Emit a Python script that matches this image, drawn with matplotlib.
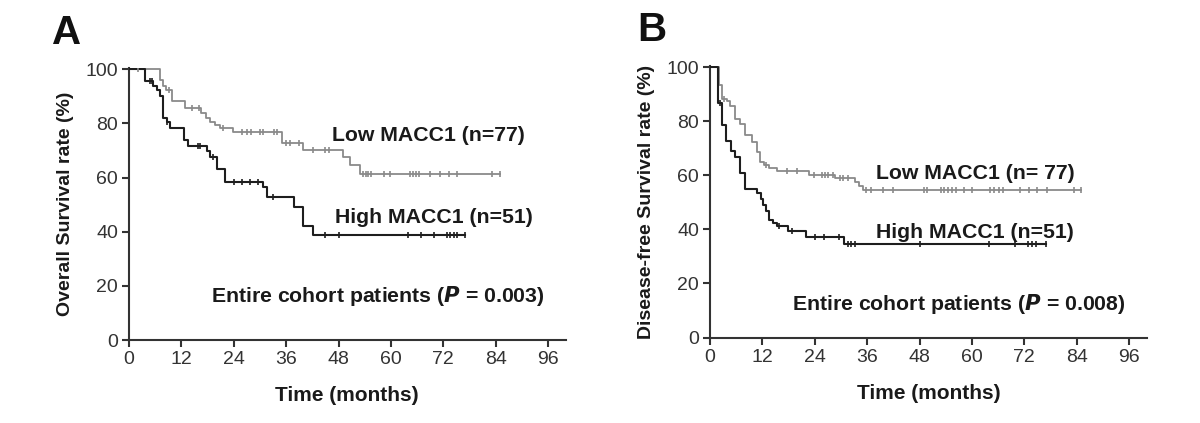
import numpy as np
import matplotlib
matplotlib.use("Agg")
import matplotlib.pyplot as plt
from matplotlib import font_manager as fm

names = {f.name for f in fm.fontManager.ttflist}
NARROW = "Liberation Sans Narrow" if "Liberation Sans Narrow" in names else "Liberation Sans"
BOLD = "Liberation Sans"

# ---------------- data ----------------
x_ticks = [0, 12, 24, 36, 48, 60, 72, 84, 96]
y_ticks = [0, 20, 40, 60, 80, 100]

# Panel A - overall survival
a_low_t = [0, 7.0, 7.7, 8.4, 9.8, 12.8, 16.6, 17.6, 18.6, 19.6, 20.8, 23.9, 35.0, 39.9, 49.0, 50.6, 52.8]
a_low_s = [100, 96.0, 94.0, 92.2, 88.2, 85.7, 84.0, 82.1, 80.5, 79.5, 78.4, 76.9, 72.7, 70.2, 67.6, 64.5, 61.3]
a_low_end = 85.0
a_low_cens = [2.0, 9.2, 14.5, 16.0, 21.5, 25.8, 27.0, 27.9, 29.9, 30.8, 33.2, 33.8, 35.9, 36.9, 39.0,
              42.1, 44.9, 45.7, 53.7, 54.3, 54.8, 55.4, 58.3, 59.8, 64.4, 65.1, 65.7, 66.5, 69.0,
              71.2, 73.2, 75.1, 83.1, 85.0]

a_high_t = [0, 3.7, 5.6, 6.3, 7.0, 7.7, 8.6, 9.5, 12.6, 13.5, 17.8, 18.6, 20.1, 22.0, 30.6, 31.5, 37.8, 39.8, 42.1]
a_high_s = [100, 95.8, 94.0, 92.2, 90.0, 82.1, 80.4, 78.4, 73.8, 71.7, 69.9, 67.6, 63.1, 58.2, 56.4, 53.0, 49.0, 42.3, 38.8]
a_high_end = 77.0
a_high_cens = [4.7, 5.2, 8.6, 15.9, 16.3, 19.2, 24.1, 25.8, 27.7, 29.6, 32.9, 45.0, 48.0, 64.0,
               67.0, 69.8, 72.8, 73.6, 74.4, 75.1, 77.0]

# Panel B - disease-free survival
b_low_t = [0, 2.0, 2.7, 3.8, 4.6, 5.7, 6.8, 8.0, 9.7, 10.8, 11.5, 12.3, 13.6, 15.4, 22.7, 28.7, 33.3, 34.2, 35.0]
b_low_s = [100, 93.6, 88.3, 87.4, 85.7, 80.7, 79.1, 75.1, 72.4, 68.7, 64.9, 63.8, 62.8, 61.7, 60.3, 59.1, 57.6, 56.0, 54.5]
b_low_end = 85.0
b_low_cens = [3.3, 12.8, 17.6, 19.9, 23.7, 25.6, 26.3, 27.1, 28.2, 29.8, 30.5, 31.7, 35.7, 36.8,
              39.7, 41.9, 48.9, 49.8, 52.9, 53.6, 54.4, 55.4, 56.4, 58.1, 60.0, 64.2, 65.0, 66.1,
              67.1, 71.1, 73.0, 74.9, 77.1, 83.3, 85.0]

b_high_t = [0, 1.9, 2.8, 3.7, 4.8, 5.7, 6.9, 7.9, 10.8, 11.6, 12.2, 12.9, 13.6, 14.5, 15.3, 17.9, 22.0, 30.6]
b_high_s = [100, 86.7, 78.8, 72.8, 69.0, 66.8, 60.8, 55.0, 53.5, 51.3, 49.0, 47.0, 43.5, 42.2, 41.2, 39.4, 37.2, 34.6]
b_high_end = 77.0
b_high_cens = [2.2, 15.8, 18.8, 24.0, 26.1, 29.6, 31.5, 32.2, 33.1, 48.0, 64.0, 69.9, 72.9, 73.8, 74.7, 76.9]

GRAY = "#8a8a8a"
DARK = "#1e1e1e"
TXT = "#1a1a1a"


def surv_at(t, times, surv):
    idx = np.searchsorted(times, t, side="right") - 1
    return np.asarray(surv)[idx]


def draw_curve(ax, times, surv, end, cens, color, lw, ms):
    tt = list(times) + [end]
    ss = list(surv) + [surv[-1]]
    ax.step(tt, ss, where="post", color=color, lw=lw, zorder=3)
    cy = surv_at(np.asarray(cens), np.asarray(times), surv)
    ax.plot(cens, cy, linestyle="none", marker="|", color=color, ms=ms, mew=1.2, zorder=4)


def style_axes(ax, ylabel):
    ax.set_xlim(0, 100)
    ax.set_ylim(0, 100.5)
    for s in ["top", "right"]:
        ax.spines[s].set_visible(False)
    for s in ["left", "bottom"]:
        ax.spines[s].set_linewidth(1.5)
        ax.spines[s].set_color("#333333")
    ax.set_xticks(x_ticks)
    ax.set_yticks(y_ticks)
    ax.tick_params(direction="out", length=5, width=1.5, color="#333333",
                   labelsize=14, labelcolor="#333333", pad=3)
    for lab in ax.get_xticklabels() + ax.get_yticklabels():
        lab.set_fontfamily(NARROW)
    ax.set_xlabel("Time (months)", fontsize=15, fontweight="bold", family=BOLD,
                  color=TXT, labelpad=13)
    ax.set_ylabel(ylabel, fontsize=14, fontweight="bold", family=NARROW,
                  color=TXT, labelpad=8)


fig = plt.figure(figsize=(12, 4.23), dpi=100)
axA = fig.add_axes([0.1075, 0.1962, 0.3638, 0.643])
axB = fig.add_axes([0.5917, 0.2021, 0.3638, 0.642])

draw_curve(axA, a_low_t, a_low_s, a_low_end, a_low_cens, GRAY, 1.3, 4)
draw_curve(axA, a_high_t, a_high_s, a_high_end, a_high_cens, DARK, 1.5, 4)
style_axes(axA, "Overall Survival rate (%)")

draw_curve(axB, b_low_t, b_low_s, b_low_end, b_low_cens, GRAY, 1.3, 4)
draw_curve(axB, b_high_t, b_high_s, b_high_end, b_high_cens, DARK, 1.5, 4)
style_axes(axB, "Disease-free Survival rate (%)")

tkw = dict(fontsize=15.3, fontweight="bold", family=BOLD, color=TXT, va="center", ha="left")
axA.text(46.6, 75.5, "Low MACC1 (n=77)", **tkw)
axA.text(47.2, 45.2, "High MACC1 (n=51)", **tkw)
axA.text(18.8, 16.2, r"Entire cohort patients ($\bfit{P}$ = 0.003)", **tkw)

axB.text(38.1, 60.6, "Low MACC1 (n= 77)", **tkw)
axB.text(38.1, 38.7, "High MACC1 (n=51)", **tkw)
axB.text(18.7, 12.3, r"Entire cohort patients ($\bfit{P}$ = 0.008)", **tkw)

fig.text(0.043, 0.922, "A", fontsize=29, fontweight="bold", family=BOLD, color="#111111", va="center")
fig.text(0.531, 0.929, "B", fontsize=29, fontweight="bold", family=BOLD, color="#111111", va="center")

fig.savefig("out.png", dpi=100, facecolor="white")
